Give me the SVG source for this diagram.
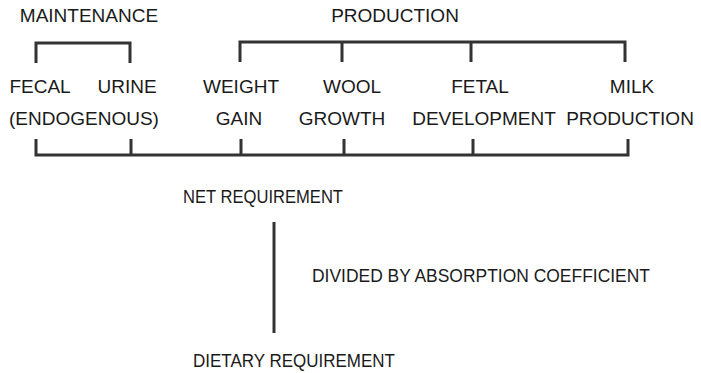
<svg xmlns="http://www.w3.org/2000/svg" width="701" height="373" viewBox="0 0 701 373">
<style>
text{font-family:"Liberation Sans",Arial,sans-serif;font-size:19px;fill:#1a1a1a;text-anchor:middle}
.sm{font-size:18px}
.ln{fill:none;stroke:#333;stroke-width:3;stroke-linejoin:miter}
</style>
<rect width="701" height="373" fill="#fff"/>
<g id="maintenance"><text x="89" y="22">MAINTENANCE</text></g>
<g id="production"><text x="395" y="22">PRODUCTION</text></g>
<g id="fecal"><text x="40" y="93">FECAL</text><text x="84" y="125">(ENDOGENOUS)</text></g>
<g id="urine"><text x="127" y="93">URINE</text></g>
<g id="weight-gain"><text x="241" y="93">WEIGHT</text><text x="239" y="125">GAIN</text></g>
<g id="wool-growth"><text x="352" y="93">WOOL</text><text x="342" y="125">GROWTH</text></g>
<g id="fetal-development"><text x="480" y="93">FETAL</text><text x="484" y="125">DEVELOPMENT</text></g>
<g id="milk-production"><text x="632" y="93">MILK</text><text x="630" y="125">PRODUCTION</text></g>
<g id="net-requirement"><text class="sm" x="263" y="203" textLength="160" lengthAdjust="spacingAndGlyphs">NET REQUIREMENT</text></g>
<g id="coefficient"><text class="sm" x="481" y="282" textLength="338" lengthAdjust="spacingAndGlyphs">DIVIDED BY ABSORPTION COEFFICIENT</text></g>
<g id="dietary-requirement"><text class="sm" x="294" y="367" textLength="202" lengthAdjust="spacingAndGlyphs">DIETARY REQUIREMENT</text></g>
<g id="connectors">
<path class="ln" d="M36,63 V43 H130 V63"/>
<path class="ln" d="M240,62 V42 H625 V62 M342,42 V62 M471,42 V62"/>
<path class="ln" d="M36,139 V155 H628 V139 M131,139 V155 M241,139 V155 M344,139 V155 M473,139 V155"/>
<path class="ln" d="M274,222 V333"/>
</g>
</svg>
